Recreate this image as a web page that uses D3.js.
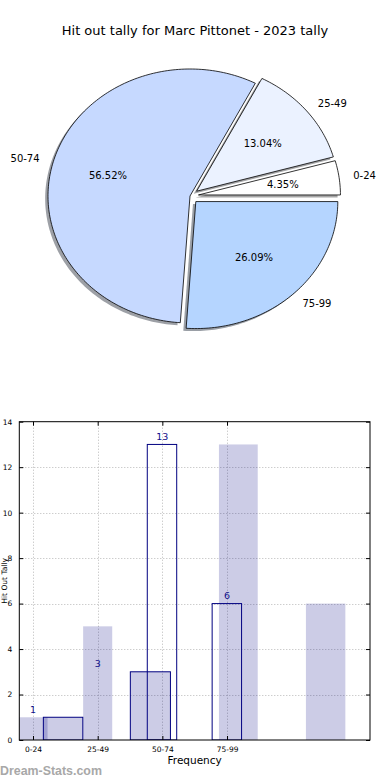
<!DOCTYPE html>
<html>
<head>
<meta charset="utf-8">
<script src="https://cdn.jsdelivr.net/npm/d3@7/dist/d3.min.js"></script>
<style>
  html, body { margin: 0; padding: 0; background: #ffffff; }
  svg { display: block; font-family: "DejaVu Sans", sans-serif; }
</style>
</head>
<body>
<svg id="chart" width="390" height="780"></svg>
<script>
// ---------- DATA ----------
const chartTitle = "Hit out tally for Marc Pittonet - 2023 tally";
const pieLabels = ["0-24", "25-49", "50-74", "75-99"];
const pieValues = [1, 3, 13, 6];

const xTickLabels = ["0-24", "25-49", "50-74", "75-99"];
const yTickValues = [0, 2, 4, 6, 8, 10, 12, 14];
// shaded (translucent) bars: left edge, width (axis units), height
const shadedX = [-0.225, 0.16, 0.775, 1.505, 2.875, 4.22];
const shadedW = [0.45, 0.61, 0.45, 0.62, 0.6, 0.61];
const shadedV = [1, 1, 5, 3, 13, 6];
// outlined bars
const outlineX = [0.16, 1.505, 1.767, 2.77];
const outlineW = [0.61, 0.62, 0.455, 0.455];
const outlineV = [1, 3, 13, 6];
// value labels, one per category
const labelValues = [1, 3, 13, 6];
const xAxisTitle = "Frequency";
const yAxisTitle = "Hit Out Tally";
const watermark = "Dream-Stats.com";

// ---------- STYLE ----------
const pieColors = ["#ffffff", "#ebf2ff", "#c6d9ff", "#b5d5ff"];
const pieExplode = [0.06, 0.06, 0, 0.06];
const navy = "#10108a";

const svg = d3.select("#chart");

// ---------- TITLE ----------
svg.append("text")
  .attr("x", 195).attr("y", 35)
  .attr("text-anchor", "middle")
  .attr("font-size", 13)
  .attr("fill", "#000")
  .text(chartTitle);

// ---------- PIE ----------
const cx = 190, cy = 196, rx = 142, ry = 127;
const px = d3.scaleLinear().domain([-1, 1]).range([cx - rx, cx + rx]);
const py = d3.scaleLinear().domain([-1, 1]).range([cy + ry, cy - ry]);

const pie = d3.pie().sort(null).startAngle(0).endAngle(2 * Math.PI);
const arcs = pie(pieValues);
const total = d3.sum(pieValues);

function wedgePoints(a0, a1, ox, oy) {
  const n = Math.max(4, Math.ceil((a1 - a0) / 0.02));
  const pts = [[ox, oy]];
  for (let i = 0; i <= n; i++) {
    const t = a0 + (a1 - a0) * i / n;
    pts.push([ox + Math.cos(t), oy + Math.sin(t)]);
  }
  return pts;
}
const line = d3.line().x(d => px(d[0])).y(d => py(d[1])).curve(d3.curveLinearClosed);

const wedges = arcs.map((a, i) => {
  const mid = (a.startAngle + a.endAngle) / 2;
  const ox = pieExplode[i] * Math.cos(mid);
  const oy = pieExplode[i] * Math.sin(mid);
  return { a, i, mid, ox, oy };
});

const pieG = svg.append("g");
// shadows
pieG.selectAll("path.shadow").data(wedges).join("path")
  .attr("class", "shadow")
  .attr("d", w => line(wedgePoints(w.a.startAngle, w.a.endAngle, w.ox - 0.02, w.oy - 0.02)))
  .attr("fill", w => {
    const c = d3.rgb(pieColors[w.i]);
    return d3.rgb(c.r * 0.3, c.g * 0.3, c.b * 0.3).toString();
  })
  .attr("fill-opacity", 0.5)
  .attr("stroke", "none");
// wedges
pieG.selectAll("path.wedge").data(wedges).join("path")
  .attr("class", "wedge")
  .attr("d", w => line(wedgePoints(w.a.startAngle, w.a.endAngle, w.ox, w.oy)))
  .attr("fill", w => pieColors[w.i])
  .attr("stroke", "#000")
  .attr("stroke-width", 0.8)
  .attr("stroke-linejoin", "miter");
// labels
pieG.selectAll("text.lab").data(wedges).join("text")
  .attr("class", "lab")
  .attr("x", w => px(w.ox + 1.1 * Math.cos(w.mid)))
  .attr("y", w => py(w.oy + 1.1 * Math.sin(w.mid)))
  .attr("dy", "0.35em")
  .attr("text-anchor", w => Math.cos(w.mid) >= 0 ? "start" : "end")
  .attr("font-size", 10)
  .attr("fill", "#000")
  .text(w => pieLabels[w.i]);
pieG.selectAll("text.pct").data(wedges).join("text")
  .attr("class", "pct")
  .attr("x", w => px(w.ox + 0.6 * Math.cos(w.mid)))
  .attr("y", w => py(w.oy + 0.6 * Math.sin(w.mid)))
  .attr("dy", "0.35em")
  .attr("text-anchor", "middle")
  .attr("font-size", 10)
  .attr("fill", "#000")
  .text(w => (100 * pieValues[w.i] / total).toFixed(2) + "%");

// ---------- HISTOGRAM ----------
const L = 19.3, R = 370, T = 421.7, B = 740;
const x = d3.scaleLinear().domain([-0.212, 5.211]).range([L, R]);
const y = d3.scaleLinear().domain([0, 14]).range([B, T]);

const hist = svg.append("g");
hist.append("clipPath").attr("id", "plotclip")
  .append("rect").attr("x", L).attr("y", T).attr("width", R - L).attr("height", B - T);

// grid
const grid = hist.append("g").attr("stroke", "#b8b8b8").attr("stroke-width", 1)
  .attr("stroke-dasharray", "1,2");
grid.selectAll("line.h").data(yTickValues.slice(1, -1)).join("line")
  .attr("x1", L).attr("x2", R)
  .attr("y1", d => Math.round(y(d)) + 0.5).attr("y2", d => Math.round(y(d)) + 0.5);
grid.selectAll("line.v").data(xTickLabels.map((d, i) => i)).join("line")
  .attr("y1", T).attr("y2", B)
  .attr("x1", d => Math.round(x(d)) + 0.5).attr("x2", d => Math.round(x(d)) + 0.5);

const plot = hist.append("g").attr("clip-path", "url(#plotclip)");
plot.selectAll("rect.shaded").data(shadedV).join("rect")
  .attr("class", "shaded")
  .attr("x", (d, i) => x(shadedX[i]))
  .attr("width", (d, i) => x(shadedX[i] + shadedW[i]) - x(shadedX[i]))
  .attr("y", d => y(d))
  .attr("height", d => y(0) - y(d))
  .attr("fill", "#000080").attr("fill-opacity", 0.2);
plot.selectAll("rect.outline").data(outlineV).join("rect")
  .attr("class", "outline")
  .attr("x", (d, i) => x(outlineX[i]))
  .attr("width", (d, i) => x(outlineX[i] + outlineW[i]) - x(outlineX[i]))
  .attr("y", d => y(d))
  .attr("height", d => y(0) - y(d))
  .attr("fill", "none").attr("stroke", "#000080").attr("stroke-width", 1);

hist.selectAll("text.val").data(labelValues).join("text")
  .attr("class", "val")
  .attr("x", (d, i) => x(i))
  .attr("y", d => y(d + 0.2))
  .attr("text-anchor", "middle")
  .attr("font-size", 9.5)
  .attr("fill", navy)
  .text(d => d);

// axes
const xAxis = d3.axisBottom(x).tickValues([0, 1, 2, 3])
  .tickFormat((d, i) => xTickLabels[i]).tickSize(-4).tickPadding(7);
const gx = hist.append("g").attr("transform", `translate(0,${B})`).call(xAxis);
gx.select(".domain").remove();
gx.selectAll("text").attr("font-size", 7.5).attr("font-family", "DejaVu Sans").attr("fill", "#000");
gx.selectAll("line").attr("stroke", "#000");

const xAxisTop = d3.axisTop(x).tickValues([0, 1, 2, 3]).tickSize(-4).tickFormat("");
const gxt = hist.append("g").attr("transform", `translate(0,${T})`).call(xAxisTop);
gxt.select(".domain").remove();

const yAxis = d3.axisLeft(y).tickValues(yTickValues).tickSize(-4).tickPadding(7);
const gy = hist.append("g").attr("transform", `translate(${L},0)`).call(yAxis);
gy.select(".domain").remove();
gy.selectAll("text").attr("font-size", 7.5).attr("font-family", "DejaVu Sans").attr("fill", "#000");

const yAxisR = d3.axisRight(y).tickValues(yTickValues).tickSize(-4).tickFormat("");
const gyr = hist.append("g").attr("transform", `translate(${R},0)`).call(yAxisR);
gyr.select(".domain").remove();

// frame
hist.append("rect").attr("x", L).attr("y", T).attr("width", R - L).attr("height", B - T)
  .attr("fill", "none").attr("stroke", "#000").attr("stroke-width", 1);

// axis titles
hist.append("text").attr("x", (L + R) / 2).attr("y", 764)
  .attr("text-anchor", "middle").attr("font-size", 10.5).attr("fill", "#000")
  .text(xAxisTitle);
hist.append("text")
  .attr("transform", `translate(6.5,${(T + B) / 2}) rotate(-90)`)
  .attr("text-anchor", "middle").attr("font-size", 7.5).attr("fill", "#000")
  .text(yAxisTitle);

// watermark
svg.append("text").attr("x", 0).attr("y", 775)
  .attr("font-family", "Liberation Sans, Arial, sans-serif")
  .attr("font-weight", "bold").attr("font-size", 12.4)
  .attr("fill", "#a8a8a8")
  .text(watermark);
</script>
</body>
</html>
